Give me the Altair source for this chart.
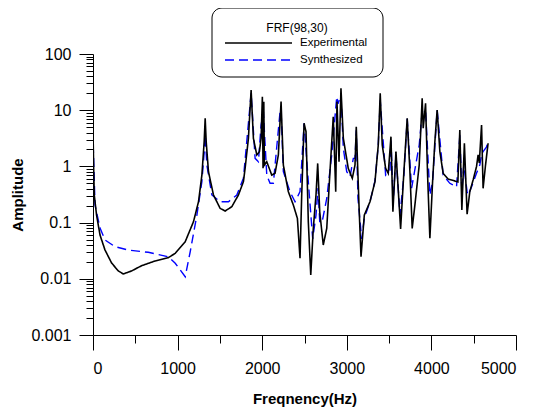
import altair as alt
import pandas as pd

# Experimental FRF (black, solid)
exp_freq = [2, 8, 15, 42, 83, 142, 220, 299, 358, 456,
            574, 732, 889, 972, 1090, 1188, 1247, 1287, 1314, 1326,
            1338, 1365, 1424, 1503, 1562, 1641, 1719, 1778, 1798, 1837,
            1869, 1896, 1936, 1967, 1987, 2002, 2010, 2019, 2026, 2054,
            2113, 2152, 2191, 2223, 2250, 2309, 2368, 2416, 2447, 2467,
            2495, 2518, 2545, 2574, 2604, 2636, 2656, 2680, 2722, 2763,
            2801, 2840, 2869, 2884, 2908, 2931, 2959, 3017, 3065, 3097,
            3112, 3144, 3168, 3207, 3274, 3333, 3372, 3395, 3419, 3459,
            3490, 3522, 3545, 3581, 3636, 3675, 3714, 3746, 3773, 3805,
            3856, 3891, 3903, 3931, 3955, 3982, 4014, 4041, 4068, 4100,
            4139, 4198, 4277, 4313, 4336, 4360, 4390, 4422, 4454, 4493,
            4533, 4552, 4566, 4593, 4611, 4640, 4670]
exp_amp = [3.0, 0.9, 0.31, 0.136, 0.060, 0.0325, 0.0191, 0.0138, 0.0122, 0.0138,
           0.0171, 0.0207, 0.0237, 0.0284, 0.0457, 0.104, 0.235, 0.70, 2.75, 7.2,
           2.75, 0.805, 0.31, 0.179, 0.161, 0.192, 0.31, 0.535, 0.925, 3.16,
           22.9, 3.16, 1.60, 1.83, 3.16, 17.4, 0.925, 14.2, 1.06, 1.21,
           0.70, 0.753, 1.60, 14.2, 1.06, 0.355, 0.206, 0.119, 0.0232, 0.31,
           5.85, 4.14, 0.104, 0.0117, 0.079, 0.31, 1.13, 0.156, 0.040, 0.079,
           0.805, 7.66, 0.355, 14.2, 1.21, 24.5, 3.16, 0.925, 0.614, 1.06,
           5.08, 0.206, 0.0247, 0.136, 0.235, 0.535, 2.40, 20.0, 2.40, 0.925,
           0.753, 3.38, 0.156, 1.83, 0.0773, 0.805, 7.18, 0.805, 0.079, 0.206,
           1.06, 16.3, 4.77, 13.3, 0.70, 0.0526, 0.535, 2.75, 10.1, 1.83,
           0.753, 0.597, 0.55, 0.53, 4.45, 0.168, 2.58, 0.141, 0.355, 0.573,
           0.99, 1.60, 1.15, 5.46, 0.407, 1.06, 2.58]

# Synthesized FRF (blue, dashed)
syn_freq = [2, 24, 83, 142, 260, 417, 653, 889, 972, 1090,
            1149, 1228, 1287, 1318, 1326, 1346, 1405, 1503, 1601, 1700,
            1778, 1869, 1916, 1955, 1987, 2014, 2054, 2093, 2132, 2211,
            2223, 2250, 2329, 2388, 2447, 2495, 2545, 2597, 2636, 2660,
            2680, 2707, 2763, 2822, 2881, 2896, 2931, 2959, 2999, 3038,
            3077, 3097, 3112, 3132, 3176, 3207, 3274, 3333, 3372, 3395,
            3459, 3510, 3522, 3549, 3581, 3629, 3675, 3714, 3766, 3856,
            3891, 3931, 3982, 4014, 4068, 4139, 4218, 4297, 4336, 4360,
            4383, 4422, 4434, 4474, 4533, 4572, 4593, 4611, 4650, 4670]
syn_amp = [2.5, 0.206, 0.080, 0.049, 0.0373, 0.0325, 0.0296, 0.0247, 0.0189, 0.0109,
           0.0303, 0.136, 0.535, 2.10, 3.62, 1.06, 0.31, 0.235, 0.235, 0.31,
           0.614, 20.0, 1.39, 1.21, 5.5, 9.3, 0.70, 0.50, 0.50, 9.4,
           10.0, 0.805, 0.355, 0.235, 0.355, 5.85, 0.535, 0.0513, 0.136, 0.413,
           0.104, 0.10, 0.27, 1.60, 17.4, 13.0, 18.6, 2.1, 0.805, 0.656,
           1.39, 1.39, 4.4, 0.27, 0.0513, 0.12, 0.235, 0.55, 2.4, 15.0,
           0.7, 0.86, 2.9, 0.235, 1.6, 0.136, 0.7, 7.0, 0.41, 2.4,
           9.4, 10.0, 0.31, 0.535, 10.0, 0.7, 0.5, 0.43, 3.6, 0.355,
           1.06, 0.355, 0.31, 0.43, 0.753, 1.06, 1.6, 1.83, 2.2, 2.75]

series_names = ["Experimental", "Synthesized"]
series_colors = ["#000000", "#0000ff"]
series_dash = [[1, 0], [9, 5]]
legend_title = "FRF(98,30)"

x_ticks = [0, 500, 1000, 1500, 2000, 2500, 3000, 3500, 4000, 4500, 5000]
y_ticks = [m * 10.0 ** d for d in range(-3, 2) for m in range(1, 10)] + [100.0]

assert len(exp_freq) == len(exp_amp)
assert len(syn_freq) == len(syn_amp)

exp_df = pd.DataFrame({"f": exp_freq, "a": exp_amp, "series": series_names[0]})
syn_df = pd.DataFrame({"f": syn_freq, "a": syn_amp, "series": series_names[1]})

FONT = "Liberation Sans"

x_enc = alt.X("f:Q", scale=alt.Scale(domain=[0, 5000], nice=False),
              axis=alt.Axis(values=x_ticks, title="Freqnency(Hz)",
                            labelExpr="datum.value % 1000 == 0 ? format(datum.value, 'd') : ''",
                            tickSize={"condition": {"test": "datum.value % 1000 == 0", "value": 15}, "value": 8},
                            labelPadding=10, titlePadding=15, grid=False,
                            labelOverlap=False))
major_y = "abs(log(datum.value)/LN10 - round(log(datum.value)/LN10)) < 0.001"
y_enc = alt.Y("a:Q", scale=alt.Scale(type="log", domain=[0.001, 100], nice=False),
              axis=alt.Axis(values=y_ticks, title="Amplitude",
                            labelExpr=major_y + " ? format(datum.value, '~g') : ''",
                            tickSize={"condition": {"test": major_y, "value": 14}, "value": 7},
                            labelPadding=8, titlePadding=5, grid=False,
                            labelOverlap=False))

color_enc = alt.Color("series:N", scale=alt.Scale(domain=series_names, range=series_colors),
                      legend=None)
dash_enc = alt.StrokeDash("series:N", scale=alt.Scale(domain=series_names, range=series_dash),
                          legend=None)

syn_line = alt.Chart(syn_df).mark_line(strokeWidth=1.4, clip=True).encode(
    x=x_enc, y=y_enc, color=color_enc, strokeDash=dash_enc)
exp_line = alt.Chart(exp_df).mark_line(strokeWidth=1.6, clip=True).encode(
    x=x_enc, y=y_enc, color=color_enc, strokeDash=dash_enc)

# Legend box drawn as decoration (positions in pixels relative to plot area)
leg_box = alt.Chart().mark_rect(fill="white", stroke="black", strokeWidth=1,
                                cornerRadius=10).encode(
    x=alt.value(119), x2=alt.value(290), y=alt.value(-46), y2=alt.value(23))
leg_title = alt.Chart().mark_text(text=legend_title, font=FONT, fontSize=12,
                                  align="center", baseline="middle", color="black").encode(
    x=alt.value(204), y=alt.value(-26))
leg_line_exp = alt.Chart().mark_rule(color=series_colors[0], strokeWidth=1.6).encode(
    x=alt.value(132), x2=alt.value(199), y=alt.value(-11))
leg_line_syn = alt.Chart().mark_rule(color=series_colors[1], strokeWidth=1.4,
                                     strokeDash=series_dash[1]).encode(
    x=alt.value(132), x2=alt.value(199), y=alt.value(6))
leg_lab_exp = alt.Chart().mark_text(text=series_names[0], font=FONT, fontSize=11.5,
                                    align="left", baseline="middle", color="black").encode(
    x=alt.value(207), y=alt.value(-11))
leg_lab_syn = alt.Chart().mark_text(text=series_names[1], font=FONT, fontSize=11.5,
                                    align="left", baseline="middle", color="black").encode(
    x=alt.value(207), y=alt.value(6))

chart = alt.layer(syn_line, exp_line, leg_box, leg_title, leg_line_exp, leg_line_syn,
                  leg_lab_exp, leg_lab_syn).properties(
    width=423, height=281,
    autosize=alt.AutoSizeParams(type="none"),
    padding={"left": 85, "top": 46, "right": 22, "bottom": 74},
).configure_view(stroke=None).configure_axis(
    labelFont=FONT, labelFontSize=16, labelColor="black",
    titleFont=FONT, titleFontSize=15, titleFontWeight="bold", titleColor="black",
    domainColor="black", tickColor="black", domainWidth=1, tickWidth=1,
)

chart.save("out.html", embed_options={"renderer": "svg", "actions": False})
